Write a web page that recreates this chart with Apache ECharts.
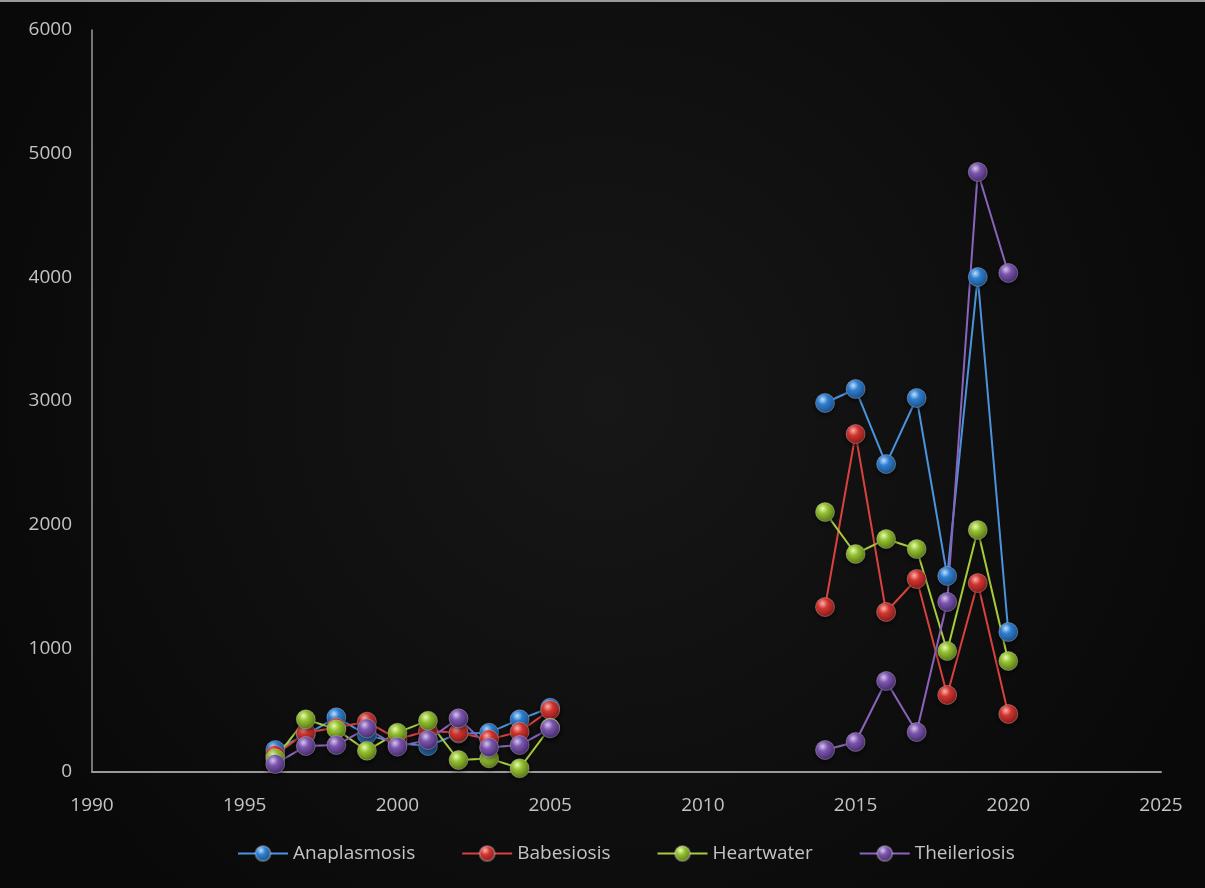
<!DOCTYPE html>
<html>
<head>
<meta charset="utf-8">
<style>
  html, body { margin: 0; padding: 0; background: #0d0d0d; }
  #topband { position: absolute; left: 0; top: 0; width: 1205px; height: 2px; background: #9a9a9a; }
  #chart { width: 1205px; height: 888px; }
</style>
<script src="https://cdn.jsdelivr.net/npm/echarts@6/dist/echarts.min.js"></script>
</head>
<body>
<div id="chart"></div>
<div id="topband"></div>
<script>
// Reported cases per year, two survey periods
const yearsEarly = [1996, 1997, 1998, 1999, 2000, 2001, 2002, 2003, 2004, 2005];
const yearsLate  = [2014, 2015, 2016, 2017, 2018, 2019, 2020];

const anaplasmosisEarly = [178, 300, 442, 300, 235, 210, 310, 318, 426, 520];
const anaplasmosisLate  = [2984, 3097, 2490, 3024, 1585, 4003, 1132];
const babesiosisEarly   = [137, 318, 360, 407, 265, 334, 318, 264, 326, 501];
const babesiosisLate    = [1334, 2733, 1294, 1561, 623, 1528, 469];
const heartwaterEarly   = [110, 426, 345, 172, 318, 415, 97, 110, 30, 360];
const heartwaterLate    = [2102, 1763, 1884, 1803, 978, 1957, 898];
const theileriosisEarly = [65, 210, 218, 353, 205, 259, 434, 199, 218, 353];
const theileriosisLate  = [178, 243, 736, 323, 1375, 4852, 4035];

const xTicks = { min: 1990, max: 2025, step: 5 };
const yTicks = { min: 0, max: 6000, step: 1000 };

const seriesDefs = [
  { name: 'Anaplasmosis', early: anaplasmosisEarly, late: anaplasmosisLate,
    line: '#4b93dc', light: '#bfe0ff', base: '#2f7fd0', dark: '#17487d' },
  { name: 'Babesiosis', early: babesiosisEarly, late: babesiosisLate,
    line: '#d8423e', light: '#ffb3ad', base: '#d23631', dark: '#7a1714' },
  { name: 'Heartwater', early: heartwaterEarly, late: heartwaterLate,
    line: '#a8cc3c', light: '#e8ffae', base: '#95c033', dark: '#4f6c12' },
  { name: 'Theileriosis', early: theileriosisEarly, late: theileriosisLate,
    line: '#8a64bc', light: '#d9c6f2', base: '#7c56ae', dark: '#3d2461' }
];

// Join both periods, with a gap point so the line breaks between them
function buildData(early, late) {
  const pts = yearsEarly.map((y, i) => [y, early[i]]);
  pts.push([2010, NaN]);
  yearsLate.forEach((y, i) => pts.push([y, late[i]]));
  return pts;
}

function sphere(d) {
  return new echarts.graphic.RadialGradient(0.38, 0.32, 0.75, [
    { offset: 0, color: d.light },
    { offset: 0.35, color: d.base },
    { offset: 1, color: d.dark }
  ]);
}

const fontFamily = '"Open Sans", Lato, sans-serif';
const textColor = '#c4c4c4';
const plain = v => String(v);

const chart = echarts.init(document.getElementById('chart'), null, { renderer: 'canvas' });

chart.setOption({
  backgroundColor: new echarts.graphic.RadialGradient(0.5, 0.45, 0.75, [
    { offset: 0, color: '#171717' },
    { offset: 1, color: '#090909' }
  ]),
  animation: false,
  grid: { left: 92, right: 44, top: 30, bottom: 116 },
  legend: {
    bottom: 20,
    left: 232,
    itemWidth: 50,
    itemHeight: 19,
    itemGap: 46,
    textStyle: { color: textColor, fontSize: 19, fontFamily: fontFamily },
    data: seriesDefs.map(d => d.name)
  },
  xAxis: {
    type: 'value',
    min: xTicks.min,
    max: xTicks.max,
    interval: xTicks.step,
    axisLine: { show: true, lineStyle: { color: '#9a9a9a', width: 2 } },
    axisTick: { show: false },
    splitLine: { show: false },
    axisLabel: { color: textColor, fontSize: 19, fontFamily: fontFamily, margin: 24, formatter: plain }
  },
  yAxis: {
    type: 'value',
    min: yTicks.min,
    max: yTicks.max,
    interval: yTicks.step,
    axisLine: { show: true, lineStyle: { color: '#9a9a9a', width: 1.5 } },
    axisTick: { show: false },
    splitLine: { show: false },
    axisLabel: { color: textColor, fontSize: 19, fontFamily: fontFamily, margin: 20, formatter: plain }
  },
  series: seriesDefs.map(d => ({
    name: d.name,
    type: 'line',
    data: buildData(d.early, d.late),
    connectNulls: false,
    symbol: 'circle',
    symbolSize: 19,
    lineStyle: { color: d.line, width: 2 },
    itemStyle: {
      color: sphere(d),
      borderColor: 'rgba(255,255,255,0.28)',
      borderWidth: 1,
      shadowColor: 'rgba(0,0,0,0.6)',
      shadowBlur: 4,
      shadowOffsetY: 2
    },
    emphasis: { disabled: true }
  }))
});
</script>
</body>
</html>
